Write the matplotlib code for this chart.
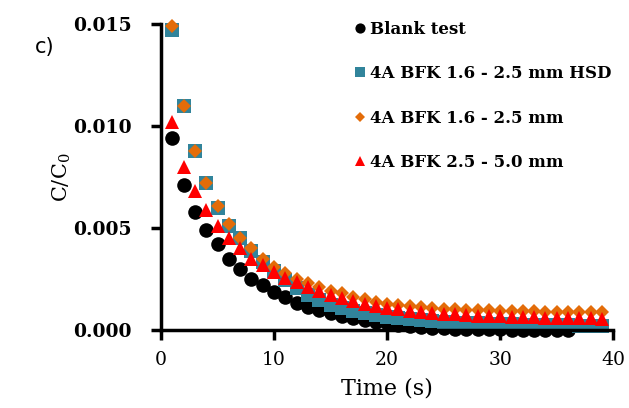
import numpy as np
import matplotlib
matplotlib.use('Agg')
import matplotlib.pyplot as plt

# Datos (C/C0 frente al tiempo)
t = np.arange(1, 40)
t_blank = np.arange(1, 37)

blank = [0.0094, 0.0071, 0.0058, 0.0049, 0.0042, 0.0035, 0.0030, 0.0025, 0.0022, 0.00188,
         0.0016, 0.00134, 0.00114, 0.00097, 0.00082, 0.0007, 0.00058, 0.00048, 0.0004, 0.00033,
         0.00026, 0.0002, 0.00015, 0.00011, 0.00008, 0.00006, 0.00005, 0.00004, 0.00003, 0.00003,
         0.00002, 0.00002, 0.00001, 0.00001, 0.00001, 0.0]

hsd = [0.0147, 0.0110, 0.0088, 0.0072, 0.0060, 0.0051, 0.0045, 0.0039, 0.00335, 0.0029,
       0.00245, 0.00205, 0.0017, 0.00145, 0.00125, 0.00108, 0.00094, 0.00082, 0.00072, 0.00064,
       0.00058, 0.00052, 0.00047, 0.00043, 0.0004, 0.00037, 0.00035, 0.00033, 0.00031, 0.0003,
       0.00028, 0.00027, 0.00026, 0.00025, 0.00024, 0.00023, 0.00022, 0.00021, 0.0002]

bfk16 = [0.0149, 0.0110, 0.0088, 0.0072, 0.0061, 0.0052, 0.0045, 0.0040, 0.0035, 0.0031,
         0.0028, 0.0025, 0.0023, 0.0021, 0.0019, 0.0018, 0.0016, 0.0015, 0.0014, 0.0013,
         0.00125, 0.0012, 0.00115, 0.0011, 0.00105, 0.00102, 0.001, 0.00098, 0.00096, 0.00095,
         0.00094, 0.00093, 0.00092, 0.00091, 0.0009, 0.0009, 0.00089, 0.00088, 0.00088]

bfk25 = [0.0102, 0.0080, 0.0068, 0.0059, 0.0051, 0.0045, 0.0040, 0.0035, 0.0032, 0.00285,
         0.00255, 0.00235, 0.0021, 0.0019, 0.00172, 0.00157, 0.00143, 0.0013, 0.0012, 0.0011,
         0.00102, 0.00095, 0.0009, 0.00085, 0.0008, 0.00077, 0.00074, 0.00071, 0.00069, 0.00067,
         0.00065, 0.00063, 0.00062, 0.00061, 0.0006, 0.00059, 0.00058, 0.00057, 0.00056]

labels = ['Blank test', '4A BFK 1.6 - 2.5 mm HSD', '4A BFK 1.6 - 2.5 mm', '4A BFK 2.5 - 5.0 mm']

plt.rcParams['font.family'] = ['DejaVu Serif']
plt.rcParams['mathtext.fontset'] = 'dejavuserif'

fig = plt.figure(figsize=(6.29, 4.08), dpi=100)
ax = fig.add_axes([0.256, 0.191, 0.719, 0.75])

ax.plot(t_blank, blank, 'o', color='black', ms=10.5, mew=0, label=labels[0], clip_on=False)
ax.plot(t, hsd, 's', color='#31849B', ms=10.5, mew=0, label=labels[1], clip_on=False)
ax.plot(t, bfk16, 'D', color='#E36C09', ms=7, mew=0, label=labels[2], clip_on=False)
ax.plot(t, bfk25, '^', color='#FF0000', ms=10.5, mew=0, label=labels[3], clip_on=False)

ax.set_xlim(0, 40)
ax.set_ylim(0, 0.015)
ax.set_xticks([0, 10, 20, 30, 40])
ax.set_yticks([0.0, 0.005, 0.010, 0.015])
ax.set_yticklabels(['0.000', '0.005', '0.010', '0.015'], fontweight='bold')
ax.tick_params(axis='both', labelsize=13.5, width=2.5, length=7, direction='out')
ax.tick_params(axis='y', pad=14)
ax.tick_params(axis='x', pad=8)

for s in ['top', 'right']:
    ax.spines[s].set_visible(False)
for s in ['left', 'bottom']:
    ax.spines[s].set_linewidth(2.5)

ax.set_xlabel('Time (s)', fontsize=16, labelpad=6)
ax.set_ylabel(r'C/C$_\mathregular{0}$', fontsize=15, labelpad=0)

leg = ax.legend(loc='upper right', bbox_to_anchor=(1.03, 1.06), frameon=False,
                prop={'weight': 'bold', 'size': 12}, markerscale=0.7,
                handlelength=0.6, handletextpad=0.3, labelspacing=1.65)

fig.text(0.055, 0.87, 'c)', fontsize=15, family='DejaVu Sans')

plt.savefig('out.png', dpi=100)
